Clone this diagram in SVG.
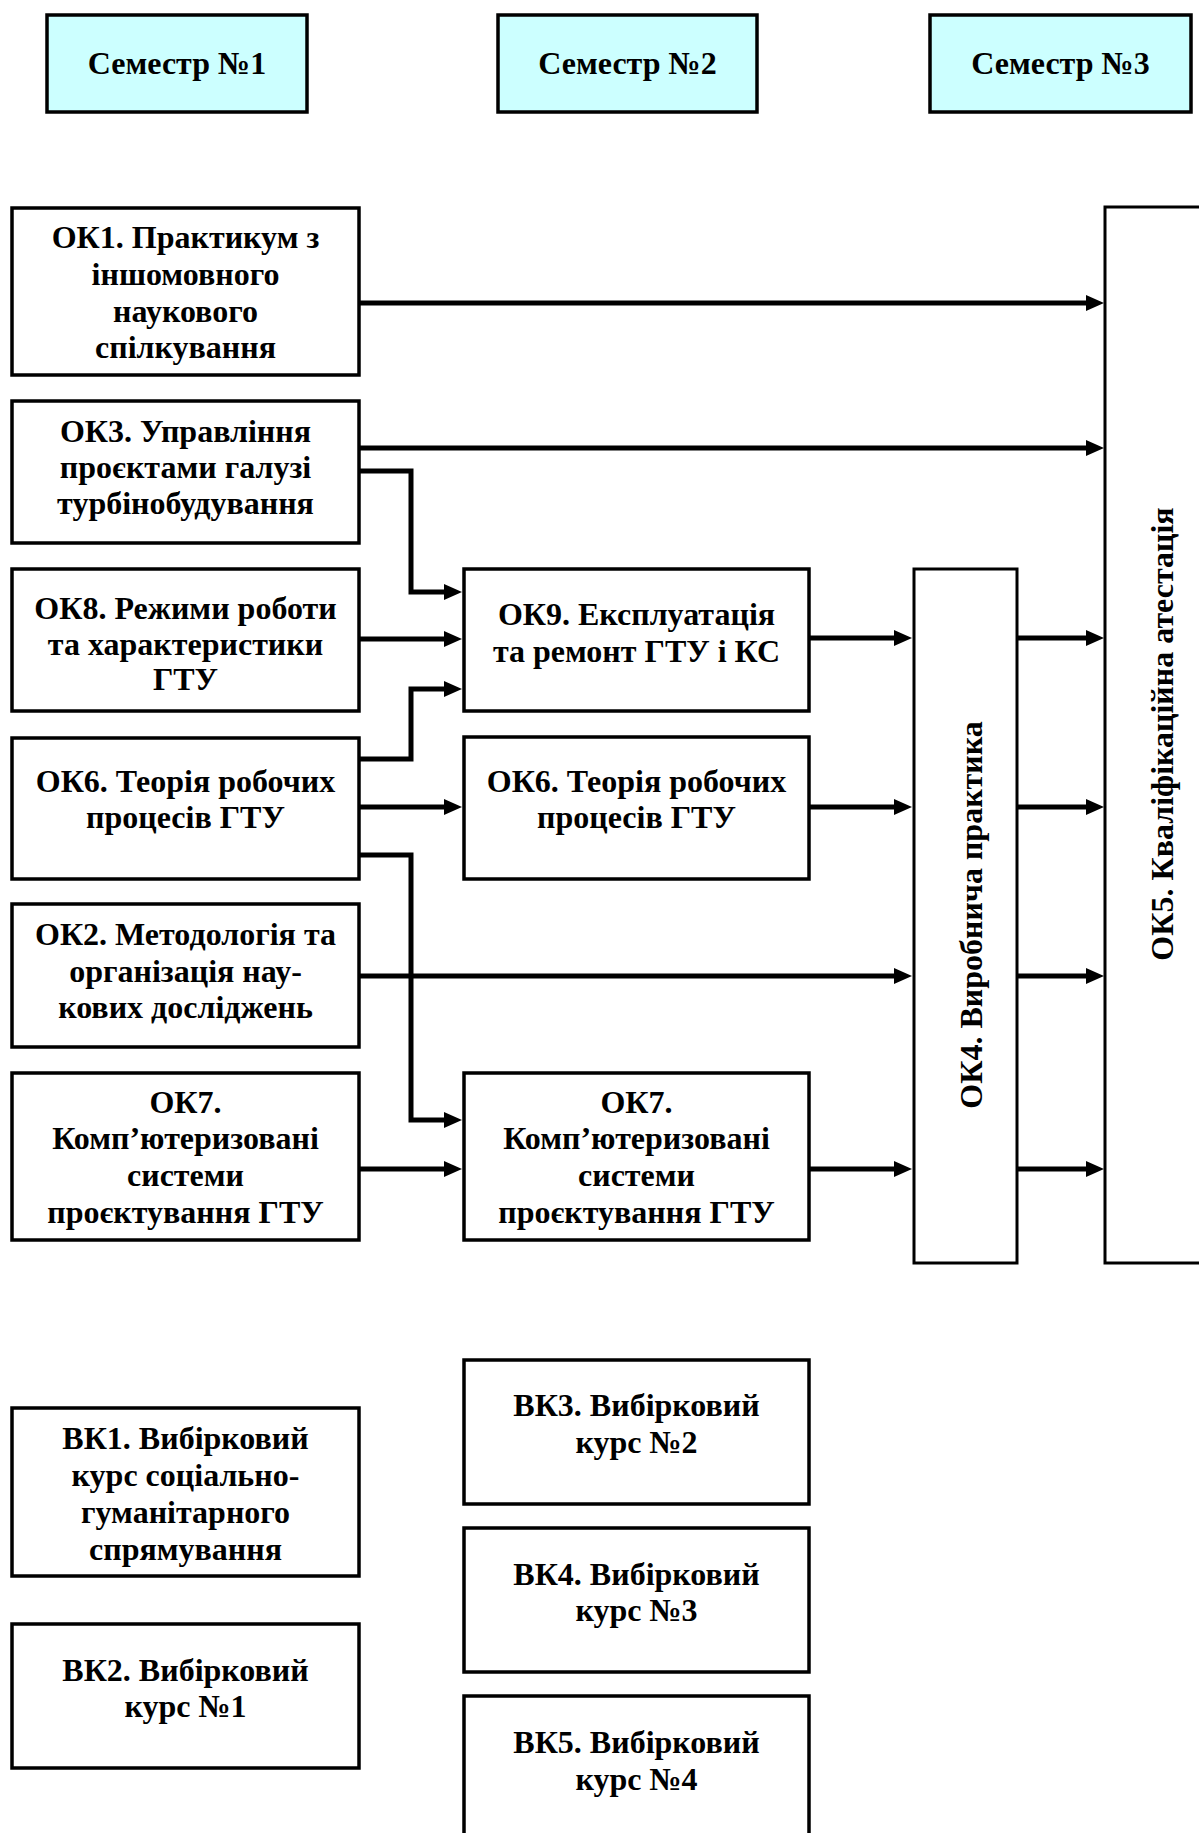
<svg xmlns="http://www.w3.org/2000/svg" width="1199" height="1833" viewBox="0 0 1199 1833">
<style>
.box{fill:#ffffff;stroke:#000000;stroke-width:3.5}
.sem{fill:#ccffff;stroke:#000000;stroke-width:3.5}
.thin{fill:#ffffff;stroke:#000000;stroke-width:3}
text{font-family:"Liberation Serif","Times New Roman",serif;font-weight:bold;font-size:32px;fill:#000000;text-anchor:middle}
.c{fill:none;stroke:#000000;stroke-width:5;marker-end:url(#ah)}
</style>
<defs>
<marker id="ah" markerUnits="userSpaceOnUse" markerWidth="18" markerHeight="16" refX="8" refY="8" orient="auto">
<path d="M0,0 L18,8 L0,16 z" fill="#000000"/>
</marker>
</defs>
<rect width="1199" height="1833" fill="#ffffff"/>
<g id="sem1"><rect class="sem" x="47" y="15" width="260" height="97"/><text x="177" y="74">Семестр №1</text></g>
<g id="sem2"><rect class="sem" x="498" y="15" width="259" height="97"/><text x="627.5" y="74">Семестр №2</text></g>
<g id="sem3"><rect class="sem" x="930" y="15" width="261" height="97"/><text x="1060.5" y="74">Семестр №3</text></g>

<g id="ok1"><rect class="box" x="12" y="208" width="347" height="167"/>
<text x="185.5" y="248">ОК1. Практикум з</text><text x="185.5" y="285">іншомовного</text><text x="185.5" y="322">наукового</text><text x="185.5" y="358">спілкування</text></g>
<g id="ok3"><rect class="box" x="12" y="401" width="347" height="142"/>
<text x="185.5" y="442">ОК3. Управління</text><text x="185.5" y="478">проєктами галузі</text><text x="185.5" y="514">турбінобудування</text></g>
<g id="ok8"><rect class="box" x="12" y="569" width="347" height="142"/>
<text x="185.5" y="619">ОК8. Режими роботи</text><text x="185.5" y="655">та характеристики</text><text x="185.5" y="690">ГТУ</text></g>
<g id="ok6"><rect class="box" x="12" y="738" width="347" height="141"/>
<text x="185.5" y="792">ОК6. Теорія робочих</text><text x="185.5" y="828">процесів ГТУ</text></g>
<g id="ok2"><rect class="box" x="12" y="904" width="347" height="143"/>
<text x="185.5" y="945">ОК2. Методологія та</text><text x="185.5" y="982">організація нау-</text><text x="185.5" y="1018">кових досліджень</text></g>
<g id="ok7"><rect class="box" x="12" y="1073" width="347" height="167"/>
<text x="185.5" y="1113">ОК7.</text><text x="185.5" y="1149">Комп’ютеризовані</text><text x="185.5" y="1186">системи</text><text x="185.5" y="1223">проєктування ГТУ</text></g>

<g id="ok9"><rect class="box" x="464" y="569" width="345" height="142"/>
<text x="636.5" y="625">ОК9. Експлуатація</text><text x="636.5" y="662">та ремонт ГТУ і КС</text></g>
<g id="ok6b"><rect class="box" x="464" y="737" width="345" height="142"/>
<text x="636.5" y="792">ОК6. Теорія робочих</text><text x="636.5" y="828">процесів ГТУ</text></g>
<g id="ok7b"><rect class="box" x="464" y="1073" width="345" height="167"/>
<text x="636.5" y="1113">ОК7.</text><text x="636.5" y="1149">Комп’ютеризовані</text><text x="636.5" y="1186">системи</text><text x="636.5" y="1223">проєктування ГТУ</text></g>

<g id="ok4"><rect class="thin" x="914" y="569" width="103" height="694"/>
<text transform="translate(982,915) rotate(-90)">ОК4. Виробнича практика</text></g>
<g id="ok5"><rect class="thin" x="1105" y="207" width="200" height="1056"/>
<text transform="translate(1173,734) rotate(-90)">ОК5. Кваліфікаційна атестація</text></g>

<g id="vk1"><rect class="box" x="12" y="1408" width="347" height="168"/>
<text x="185.5" y="1449">ВК1. Вибірковий</text><text x="185.5" y="1486">курс соціально-</text><text x="185.5" y="1523">гуманітарного</text><text x="185.5" y="1560">спрямування</text></g>
<g id="vk2"><rect class="box" x="12" y="1624" width="347" height="144"/>
<text x="185.5" y="1681">ВК2. Вибірковий</text><text x="185.5" y="1717">курс №1</text></g>
<g id="vk3"><rect class="box" x="464" y="1360" width="345" height="144"/>
<text x="636.5" y="1416">ВК3. Вибірковий</text><text x="636.5" y="1453">курс №2</text></g>
<g id="vk4"><rect class="box" x="464" y="1528" width="345" height="144"/>
<text x="636.5" y="1585">ВК4. Вибірковий</text><text x="636.5" y="1621">курс №3</text></g>
<g id="vk5"><rect class="box" x="464" y="1696" width="345" height="200"/>
<text x="636.5" y="1753">ВК5. Вибірковий</text><text x="636.5" y="1790">курс №4</text></g>

<g id="connectors">
<path class="c" d="M359,303 H1094"/>
<path class="c" d="M359,448 H1094"/>
<path class="c" d="M359,471 H411 V592 H452"/>
<path class="c" d="M359,639 H452"/>
<path class="c" d="M359,759 H411 V689 H452"/>
<path class="c" d="M359,807 H452"/>
<path class="c" d="M359,855 H411 V1120 H452"/>
<path class="c" d="M359,976 H902"/>
<path class="c" d="M359,1169 H452"/>
<path class="c" d="M809,638 H902"/>
<path class="c" d="M809,807 H902"/>
<path class="c" d="M809,1169 H902"/>
<path class="c" d="M1017,638 H1094"/>
<path class="c" d="M1017,807 H1094"/>
<path class="c" d="M1017,976 H1094"/>
<path class="c" d="M1017,1169 H1094"/>
</g>
</svg>
